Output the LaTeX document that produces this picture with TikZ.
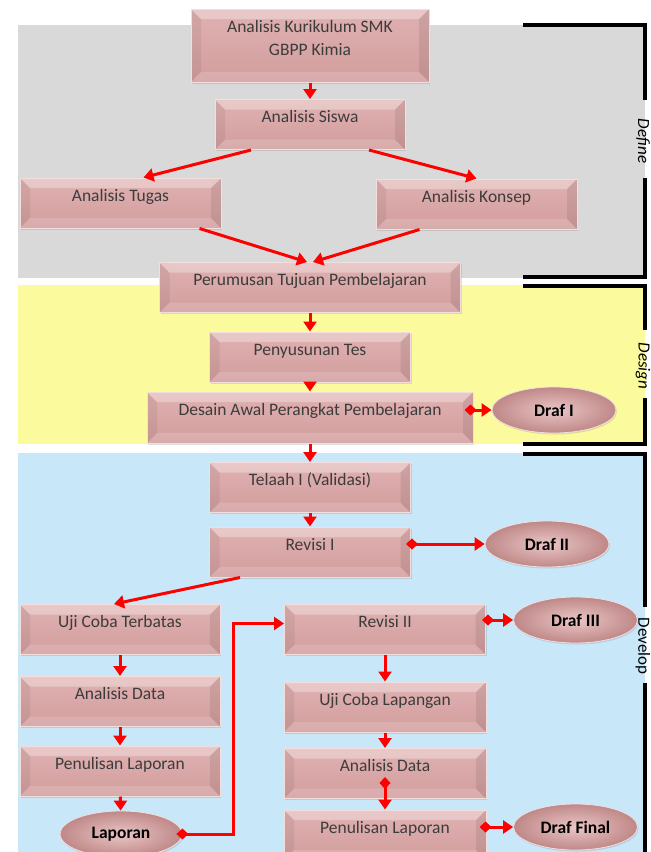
\documentclass[tikz,border=0pt]{standalone}
\usepackage{fontspec}
\setmainfont{Carlito}
\usetikzlibrary{positioning, shapes.geometric, arrows.meta, shadows}

\definecolor{abu}{HTML}{D9D9D9}
\definecolor{kuning}{HTML}{FBFB9E}
\definecolor{biru}{HTML}{C8E8FA}
\definecolor{pinkatas}{HTML}{E0B1B1}
\definecolor{pinkbawah}{HTML}{D29D9D}
\definecolor{pinktepi}{HTML}{F3DEDE}
\definecolor{pinkterang}{HTML}{EBC6C6}
\definecolor{pinkgelap}{HTML}{BF8888}
\definecolor{merah}{HTML}{FF0000}
\definecolor{teks}{HTML}{3C3C3C}

\newcommand{\sisimiring}{%
	\fill[white, opacity=0.3] (path picture bounding box.north west) -- (path picture bounding box.north east) -- ([shift={(-10pt,-10pt)}]path picture bounding box.north east) -- ([shift={(10pt,-10pt)}]path picture bounding box.north west) -- cycle;
	\fill[black, opacity=0.06] (path picture bounding box.north west) -- ([shift={(10pt,-10pt)}]path picture bounding box.north west) -- ([shift={(10pt,10pt)}]path picture bounding box.south west) -- (path picture bounding box.south west) -- cycle;
	\fill[white, opacity=0.15] (path picture bounding box.south west) -- ([shift={(10pt,10pt)}]path picture bounding box.south west) -- ([shift={(-10pt,10pt)}]path picture bounding box.south east) -- (path picture bounding box.south east) -- cycle;
	\fill[black, opacity=0.08] (path picture bounding box.north east) -- ([shift={(-10pt,-10pt)}]path picture bounding box.north east) -- ([shift={(-10pt,10pt)}]path picture bounding box.south east) -- (path picture bounding box.south east) -- cycle;
}

\tikzset{
	tahap/.style={draw=pinktepi, line width=1pt, top color=pinkatas, bottom color=pinkbawah, text=teks, font=\fontsize{17.5}{21}\selectfont, inner sep=0pt, minimum height=50pt, text height=12pt, text depth=16pt, drop shadow={opacity=0.25, shadow xshift=1pt, shadow yshift=-1.5pt}, path picture={\sisimiring}},
	draf/.style={ellipse, draw=pinktepi, line width=0.8pt, inner color=pinkterang, outer color=pinkgelap, text=black, font=\fontsize{17.5}{21}\selectfont\bfseries, inner sep=0pt, minimum width=124pt, minimum height=46pt, drop shadow={opacity=0.25, shadow xshift=1pt, shadow yshift=-1.5pt}},
	panah/.style={draw=merah, line width=3pt, -{Triangle[width=13pt,length=10pt]}},
	panahdua/.style={panah, {Diamond[width=11pt,length=12pt]}-{Triangle[width=13pt,length=10pt]}},
	kurung/.style={line width=3.5pt},
	fase/.style={rotate=-90, font=\fontsize{17}{20}\selectfont}
}

\begin{document}
\begin{tikzpicture}[x=1pt, y=-1pt]
	\useasboundingbox (0,0) rectangle (651,852);
	\clip (0,0) rectangle (651,852);

	% latar tiap fase
	\fill[abu] (18,25) rectangle (645,278);
	\fill[kuning] (18,285) rectangle (645,444);
	\fill[biru] (18,453) rectangle (645,870);

	\draw[kurung] (523,25) -- (645,25) -- (645,100);
	\draw[kurung] (645,178) -- (645,277) -- (523,277);
	\node[fase] (define) at (643,141) {\itshape Define};

	\draw[kurung] (523,286) -- (645,286) -- (645,330);
	\draw[kurung] (645,398) -- (645,444) -- (523,444);
	\node[fase] (design) at (643,366) {\itshape Design};

	\draw[kurung] (523,454) -- (645,454) -- (645,607);
	\draw[kurung] (645,683) -- (645,870);
	\node[fase] (develop) at (643,646) {Develop};

	% define
	\node[tahap, minimum width=238pt, minimum height=73pt, text height=, text depth=, align=center] (kurikulum) at (310,45.5) {Analisis Kurikulum SMK\\[2pt]GBPP Kimia\\[-6pt]\mbox{}};
	\node[tahap, minimum width=190pt] (siswa) at (310,124.5) {Analisis Siswa};
	\node[tahap, minimum width=201pt] (tugas) at (120.5,203) {Analisis Tugas};
	\node[tahap, minimum width=201pt] (konsep) at (476.5,204) {Analisis Konsep};
	\node[tahap, minimum width=301pt] (perumusan) at (310,287.5) {Perumusan Tujuan Pembelajaran};

	% design
	\node[tahap, minimum width=201pt] (penyusunan) at (310,357) {Penyusunan Tes};
	\node[tahap, minimum width=326pt, minimum height=51pt] (desain) at (310,417.5) {Desain Awal Perangkat Pembelajaran};
	\node[draf] (drafI) at (554,410) {Draf I};

	% develop
	\node[tahap, minimum width=201pt] (telaah) at (310,487.5) {Telaah I (Validasi)};
	\node[tahap, minimum width=201pt] (revisiI) at (310,552) {Revisi I};
	\node[draf] (drafII) at (547,544) {Draf II};

	\node[tahap, minimum width=200pt] (ujiterbatas) at (120,629.5) {Uji Coba Terbatas};
	\node[tahap, minimum width=200pt] (analisiskiri) at (120,701.5) {Analisis Data};
	\node[tahap, minimum width=200pt] (penulisankiri) at (120,771) {Penulisan Laporan};
	\node[draf, minimum width=122pt] (laporan) at (121,834) {Laporan};

	\node[tahap, minimum width=201pt] (revisiII) at (385,629.5) {Revisi II};
	\node[draf] (drafIII) at (575.5,620) {Draf III};
	\node[tahap, minimum width=202pt] (ujilapangan) at (385,707) {Uji Coba Lapangan};
	\node[tahap, minimum width=202pt] (analisiskanan) at (385,773.5) {Analisis Data};
	\node[tahap, minimum width=202pt] (penulisankanan) at (385,835) {Penulisan Laporan};
	\node[draf] (draffinal) at (575.5,827) {Draf Final};

	% panah
	\draw[panah] (kurikulum) -- (siswa);
	\draw[panah] ([xshift=-59pt]siswa.south) -- ([xshift=23pt]tugas.north);
	\draw[panah] ([xshift=59pt]siswa.south) -- (konsep.north);
	\draw[panah] ([xshift=79pt]tugas.south) -- ([xshift=-3pt]perumusan.north);
	\draw[panah] ([xshift=-57pt]konsep.south) -- ([xshift=3pt]perumusan.north);
	\draw[panah] (perumusan) -- (penyusunan);
	\draw[panah] (penyusunan) -- (desain);
	\draw[panahdua] ([xshift=-9pt, yshift=7.5pt]desain.east) -- (drafI.west);
	\draw[panah] (desain) -- (telaah);
	\draw[panah] (telaah) -- (revisiI);
	\draw[panahdua] ([xshift=-5pt, yshift=8pt]revisiI.east) -- (drafII.west);
	\draw[panah] ([xshift=-70pt]revisiI.south) -- ([xshift=-6pt]ujiterbatas.north);
	\draw[panah] (ujiterbatas) -- (analisiskiri);
	\draw[panah] (analisiskiri) -- (penulisankiri);
	\draw[panah] (penulisankiri) -- (laporan);
	\draw[panahdua] ([xshift=-6pt]laporan.east) -- ++(57,0) |- ([yshift=6pt]revisiII.west);
	\draw[panahdua] ([xshift=-4pt, yshift=9.5pt]revisiII.east) -- (drafIII.west);
	\draw[panah] (revisiII) -- (ujilapangan);
	\draw[panah] (ujilapangan) -- (analisiskanan);
	\draw[panahdua] ([yshift=22pt]analisiskanan.south) -- (penulisankanan.north);
	\draw[panahdua] ([xshift=-7pt, yshift=8pt]penulisankanan.east) -- (draffinal.west);
\end{tikzpicture}
\end{document}
